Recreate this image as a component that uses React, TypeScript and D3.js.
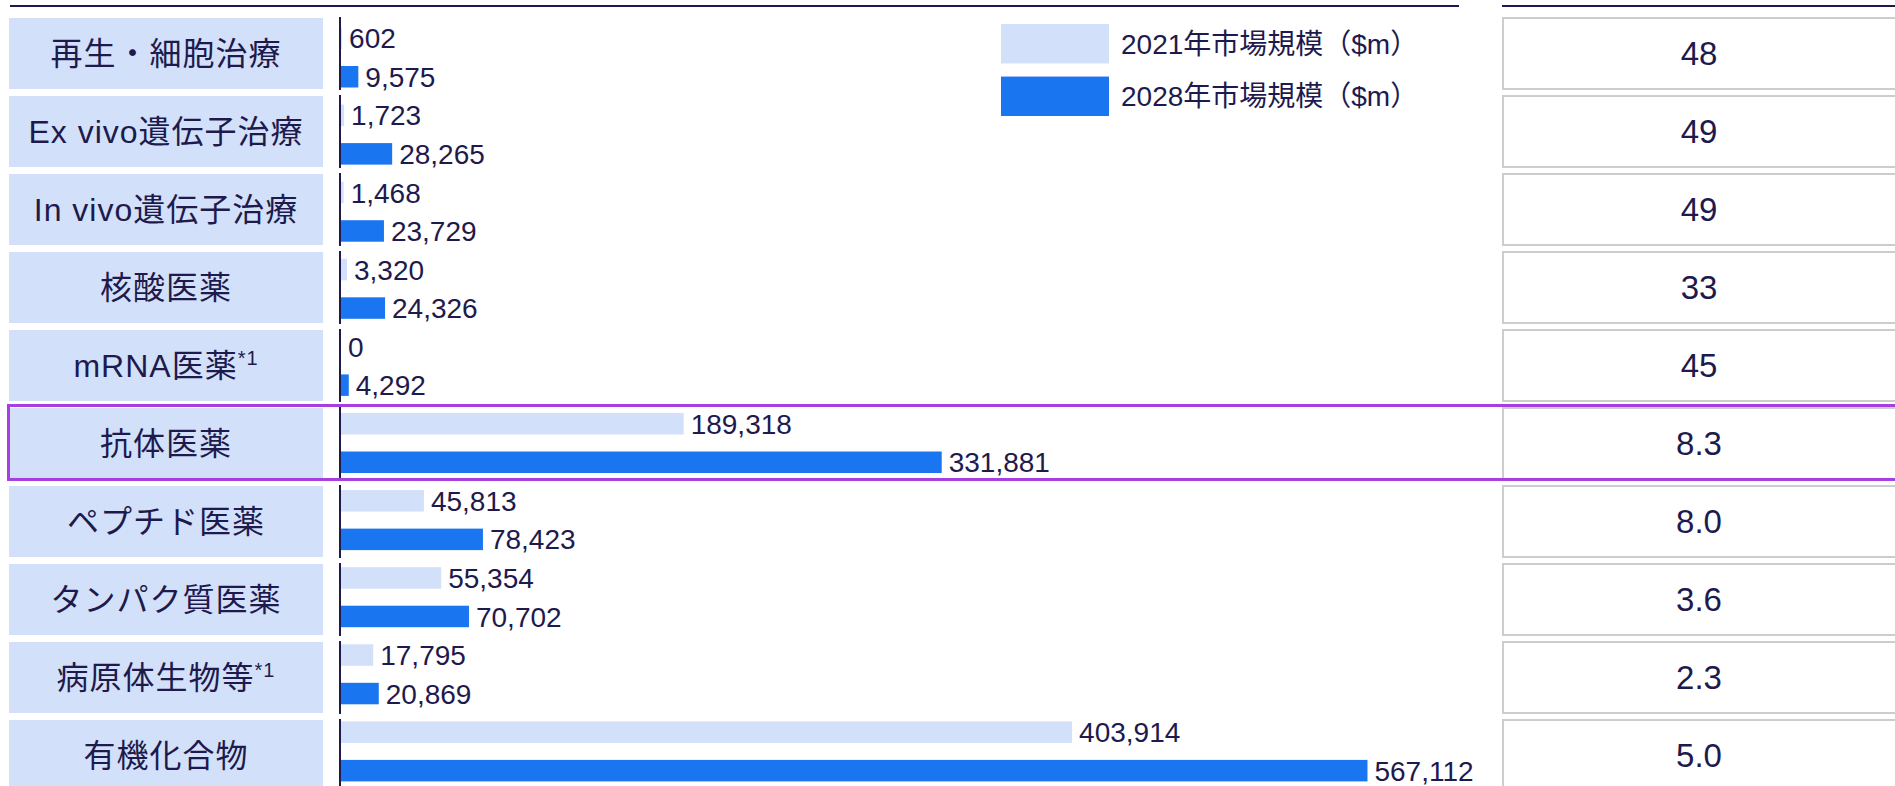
import React from 'react';
import * as d3 from 'd3';

const categories = [
  '再生・細胞治療',
  'Ex vivo遺伝子治療',
  'In vivo遺伝子治療',
  '核酸医薬',
  'mRNA医薬',
  '抗体医薬',
  'ペプチド医薬',
  'タンパク質医薬',
  '病原体生物等',
  '有機化合物',
];
const footnotes = ['', '', '', '', '*1', '', '', '', '*1', ''];
const market2021 = [602, 1723, 1468, 3320, 0, 189318, 45813, 55354, 17795, 403914];
const market2028 = [9575, 28265, 23729, 24326, 4292, 331881, 78423, 70702, 20869, 567112];
const growth = [48, 49, 49, 33, 45, 8.3, 8.0, 3.6, 2.3, 5.0];
const seriesKeys = ['2021', '2028'];
const seriesNames = ['2021年市場規模（$m）', '2028年市場規模（$m）'];
const highlighted = '抗体医薬';

const WIDTH = 1895;
const HEIGHT = 786;
const INK = '#1e1a4d';
const LIGHT = '#d2e1f9';
const DARK = '#1a75f0';
const FONT = '"Liberation Sans", Arial, "Noto Sans CJK JP", sans-serif';

const fmtValue = d3.format(',');
const fmtGrowth = (v: number) => (v >= 10 ? d3.format('d')(v) : d3.format('.1f')(v));

export default function App() {
  // label boxes / right boxes
  const rowScale = d3
    .scaleBand<string>()
    .domain(categories)
    .range([18, 18 + 78 * (10 - 0.09)])
    .paddingInner(0.09)
    .paddingOuter(0);

  // bars have a slightly tighter pitch than the boxes
  const barRowScale = d3
    .scaleBand<string>()
    .domain(categories)
    .range([22, 22 + 77.1 * 10])
    .paddingInner(0);

  const seriesScale = d3
    .scaleBand<string>()
    .domain(seriesKeys)
    .range([5.5, 65.5])
    .paddingInner(0.442)
    .paddingOuter(0);

  const xScale = d3.scaleLinear().domain([0, 600000]).range([340, 1426]);

  const series = [market2021, market2028];
  const colors = [LIGHT, DARK];
  const boxH = rowScale.bandwidth();
  const barH = seriesScale.bandwidth();

  const legendY = d3.scaleBand<string>().domain(seriesKeys).range([24, 116]).paddingInner(0.25);

  return (
    <svg
      width={WIDTH}
      height={HEIGHT}
      style={{ position: 'fixed', left: 0, top: 0, background: '#fff' }}
      fontFamily={FONT}
    >
      <rect x={0} y={0} width={WIDTH} height={HEIGHT} fill="#fff" />

      {/* header rules */}
      <line x1={10} x2={1459} y1={6} y2={6} stroke={INK} strokeWidth={2} />
      <line x1={1502} x2={WIDTH} y1={6} y2={6} stroke={INK} strokeWidth={2} />

      {categories.map((cat, i) => {
        const top = rowScale(cat) as number;
        const barTop = barRowScale(cat) as number;
        return (
          <g key={cat}>
            <rect x={9} y={top} width={314} height={boxH} fill={LIGHT} />
            <text
              x={166}
              y={top + boxH / 2}
              dy="0.36em"
              textAnchor="middle"
              fontSize={32}
              letterSpacing={1}
              fill={INK}
            >
              <tspan>{cat}</tspan>
              {footnotes[i] ? (
                <tspan fontSize={20} dy={-12}>
                  {footnotes[i]}
                </tspan>
              ) : null}
            </text>

            <line
              x1={xScale(0)}
              x2={xScale(0)}
              y1={top - 1}
              y2={top + boxH + 1}
              stroke={INK}
              strokeWidth={2}
            />

            {series.map((values, s) => {
              const y = barTop + (seriesScale(seriesKeys[s]) as number);
              const w = xScale(values[i]) - xScale(0);
              return (
                <g key={s}>
                  {w > 0 ? (
                    <rect x={xScale(0) + 1} y={y} width={w} height={barH} fill={colors[s]} />
                  ) : null}
                  <text
                    x={xScale(values[i]) + 8}
                    y={y + barH / 2}
                    dy="0.36em"
                    fontSize={28}
                    fill={INK}
                  >
                    {fmtValue(values[i])}
                  </text>
                </g>
              );
            })}

            <rect
              x={1503}
              y={top}
              width={404}
              height={boxH}
              fill="#fff"
              stroke="#cdcdcd"
              strokeWidth={2}
            />
            <text
              x={1699}
              y={top + boxH / 2}
              dy="0.36em"
              textAnchor="middle"
              fontSize={33}
              fill={INK}
            >
              {fmtGrowth(growth[i])}
            </text>
          </g>
        );
      })}

      {/* highlight frame */}
      {(() => {
        const top = rowScale(highlighted) as number;
        return (
          <rect
            x={8.5}
            y={top - 2.5}
            width={WIDTH + 20}
            height={boxH + 3}
            fill="none"
            stroke="#a63ee0"
            strokeWidth={3}
          />
        );
      })()}

      {/* legend */}
      {seriesKeys.map((k, s) => {
        const y = legendY(k) as number;
        const h = legendY.bandwidth();
        return (
          <g key={k}>
            <rect x={1001} y={y} width={108} height={h} fill={colors[s]} />
            <text x={1121} y={y + h / 2} dy="0.36em" fontSize={28} fill={INK}>
              {seriesNames[s]}
            </text>
          </g>
        );
      })}
    </svg>
  );
}
